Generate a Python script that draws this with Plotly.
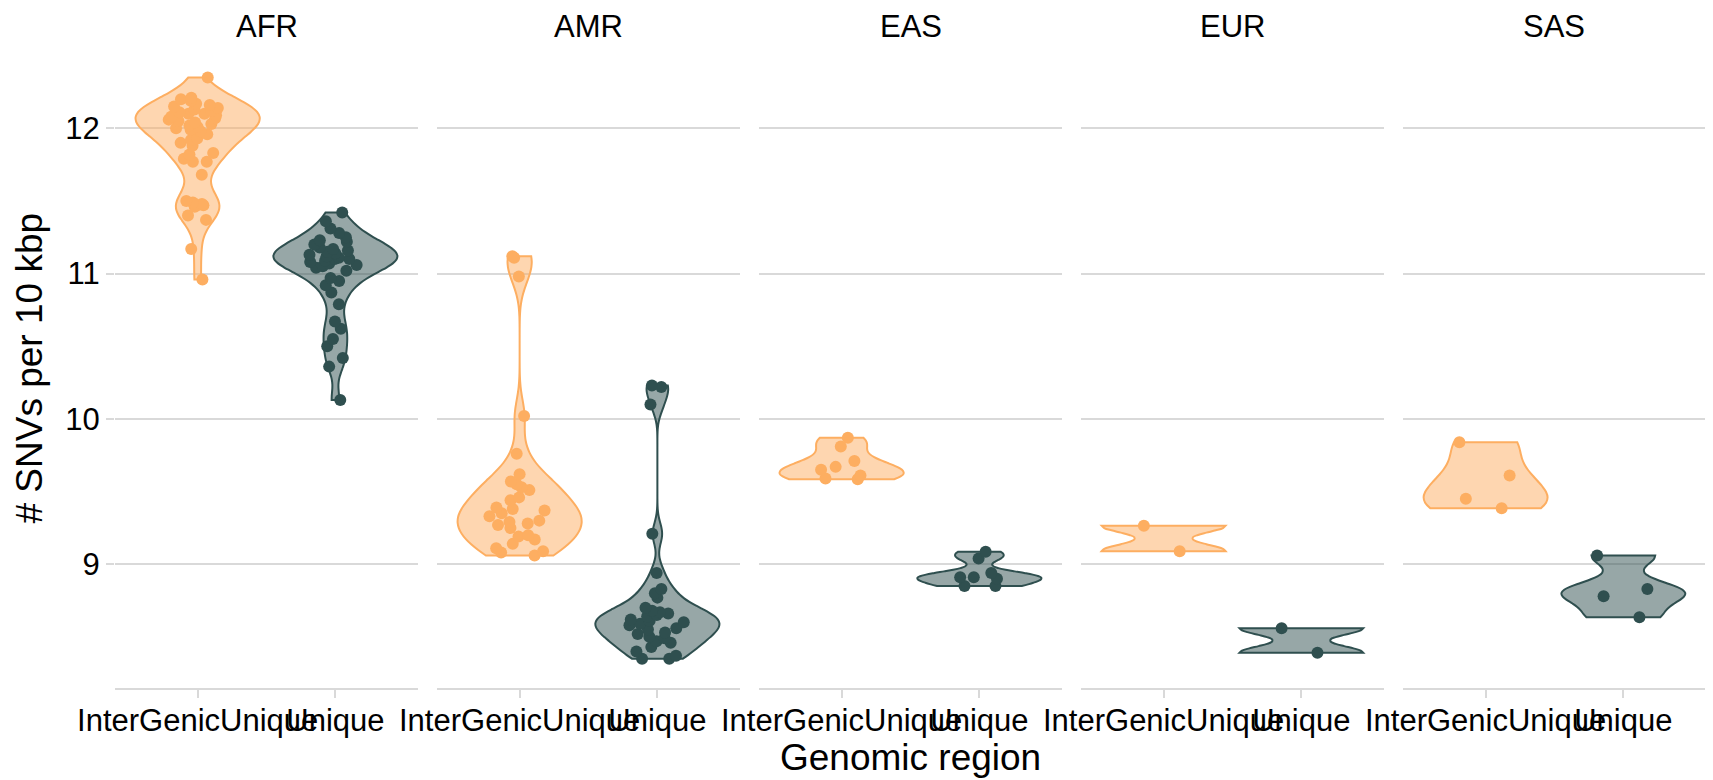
import numpy as np
import plotly.graph_objects as go
from plotly.subplots import make_subplots

regions = ["AFR", "AMR", "EAS", "EUR", "SAS"]
groups = ["InterGenicUnique", "Unique"]

# SNVs per 10 kbp
afr_intergenic = [12.35, 12.21, 12.20, 12.19, 12.17, 12.16, 12.15, 12.14, 12.13, 12.12,
                  12.11, 12.10, 12.10, 12.09, 12.08, 12.07, 12.06, 12.05, 12.04, 12.03,
                  12.02, 12.01, 12.00, 11.99, 11.98, 11.96, 11.93, 11.92, 11.90, 11.88,
                  11.83, 11.82, 11.79, 11.77, 11.77, 11.68, 11.50, 11.49, 11.48, 11.47,
                  11.47, 11.46, 11.40, 11.37, 11.17, 10.96]
afr_unique = [11.42, 11.36, 11.31, 11.28, 11.25, 11.23, 11.22, 11.20, 11.18, 11.17,
              11.16, 11.15, 11.14, 11.13, 11.12, 11.11, 11.10, 11.10, 11.09, 11.08,
              11.07, 11.06, 11.05, 11.04, 11.02, 10.97, 10.95, 10.92, 10.87, 10.79,
              10.67, 10.62, 10.55, 10.50, 10.42, 10.36, 10.13]
amr_intergenic = [11.12, 11.11, 10.98, 10.02, 9.76, 9.62, 9.57, 9.55, 9.53, 9.51,
                  9.46, 9.44, 9.39, 9.38, 9.37, 9.35, 9.33, 9.30, 9.29, 9.28,
                  9.27, 9.25, 9.20, 9.19, 9.17, 9.14, 9.11, 9.09, 9.08, 9.06]
amr_unique = [10.23, 10.22, 10.10, 9.21, 8.94, 8.83, 8.80, 8.77, 8.70, 8.68,
              8.67, 8.66, 8.65, 8.64, 8.62, 8.61, 8.60, 8.59, 8.58, 8.56,
              8.55, 8.53, 8.52, 8.50, 8.49, 8.47, 8.46, 8.43, 8.40, 8.37,
              8.35, 8.35]
eas_intergenic = [9.87, 9.81, 9.71, 9.67, 9.65, 9.61, 9.59, 9.585]
eas_unique = [9.085, 9.04, 8.94, 8.91, 8.91, 8.90, 8.85, 8.85]
eur_intergenic = [9.265, 9.09]
eur_unique = [8.56, 8.39]
sas_intergenic = [9.84, 9.61, 9.45, 9.385]
sas_unique = [9.06, 8.83, 8.78, 8.635]

data = {
    "AFR": [afr_intergenic, afr_unique],
    "AMR": [amr_intergenic, amr_unique],
    "EAS": [eas_intergenic, eas_unique],
    "EUR": [eur_intergenic, eur_unique],
    "SAS": [sas_intergenic, sas_unique],
}

line_colors = ["#FDAE61", "#2F4F4F"]
fill_colors = ["rgba(253,174,97,0.5)", "rgba(47,79,79,0.5)"]
grid = "#D9D9D9"
font = "Liberation Sans"


def nrd0(v):
    # same bandwidth rule as R's density()
    v = np.asarray(v, dtype=float)
    sd = v.std(ddof=1)
    q75, q25 = np.percentile(v, [75, 25])
    lo = min(sd, (q75 - q25) / 1.34)
    if lo <= 0:
        lo = sd
    return 0.9 * lo * len(v) ** -0.2


fig = make_subplots(rows=1, cols=5, shared_yaxes=True, horizontal_spacing=0.0119)

for c, reg in enumerate(regions, start=1):
    for g, grp in enumerate(groups):
        vals = data[reg][g]
        fig.add_trace(go.Violin(
            x=[grp] * len(vals), y=vals,
            scalegroup=reg, scalemode="width", width=0.9,
            spanmode="hard", bandwidth=nrd0(vals),
            line=dict(color=line_colors[g], width=2),
            fillcolor=fill_colors[g],
            points="all", pointpos=0, jitter=0.5,
            marker=dict(color=line_colors[g], size=12, line=dict(width=0)),
            showlegend=False, hoverinfo="y",
        ), row=1, col=c)

    fig.update_xaxes(
        type="category", categoryorder="array", categoryarray=groups,
        range=[-0.6, 1.6], showgrid=False, zeroline=False,
        showline=True, linecolor=grid, linewidth=2,
        ticks="outside", ticklen=8, tickcolor=grid, tickwidth=2,
        ticklabelstandoff=-4,
        tickangle=0, tickfont=dict(size=31, color="black", family=font),
        row=1, col=c)
    fig.update_yaxes(
        range=[8.148, 12.553], tickvals=[9, 10, 11, 12],
        showgrid=True, gridcolor=grid, gridwidth=2, zeroline=False,
        showline=False, row=1, col=c)

    dom = fig.layout["xaxis" if c == 1 else f"xaxis{c}"].domain
    fig.add_annotation(text=reg, x=(dom[0] + dom[1]) / 2, y=1, xref="paper", yref="paper",
                       xanchor="center", yanchor="bottom", yshift=2, showarrow=False,
                       font=dict(size=31, color="black", family=font))

fig.update_yaxes(ticks="outside", ticklen=8, tickcolor=grid, tickwidth=2,
                 tickfont=dict(size=31, color="black", family=font), row=1, col=1)

fig.add_annotation(text="Genomic region", x=0.5, y=0, xref="paper", yref="paper",
                   xanchor="center", yanchor="top", yshift=-47, showarrow=False,
                   font=dict(size=37, color="black", family=font))
fig.add_annotation(text="# SNVs per 10 kbp", x=0, y=0.5, xref="paper", yref="paper",
                   xanchor="right", yanchor="middle", xshift=-64, textangle=-90,
                   showarrow=False, font=dict(size=37, color="black", family=font))

# the page body adds an 8 px offset, so the figure is drawn 8 px smaller
fig.update_layout(
    width=1705, height=772,
    margin=dict(l=107, r=7, t=40, b=92),
    violinmode="overlay",
    plot_bgcolor="white", paper_bgcolor="white",
    font=dict(family=font, color="black"),
)

fig.write_html("out.html")
